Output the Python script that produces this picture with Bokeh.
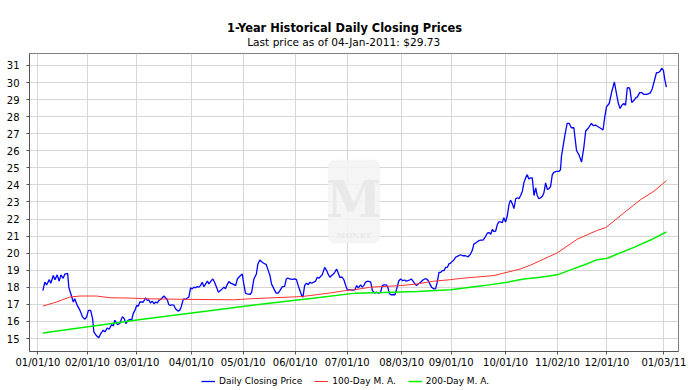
from bokeh.plotting import figure
from bokeh.layouts import column
from bokeh.models import (Range1d, FixedTicker, Label, Legend, LegendItem,
                          BoxAnnotation, Title, ColumnDataSource)
from bokeh.embed import file_html
from bokeh.resources import INLINE

# ---------------- data (trading-day index from 04-Jan-2010) ----------------
close_day = [
    0.0, 0.8, 1.5, 2.6, 3.2, 4.2, 4.9, 5.8, 6.6, 7.3,
    8.2, 8.9, 10.0, 10.5, 11.3, 12.3, 12.9, 13.9, 15.0, 16.0,
    17.0, 17.7, 18.4, 19.3, 20.1, 20.6, 21.7, 22.6, 23.4, 24.4,
    25.1, 26.0, 26.8, 27.8, 28.5, 29.1, 30.1, 31.1, 32.1, 32.9,
    33.5, 34.5, 35.2, 35.9, 36.5, 37.2, 37.9, 38.6, 39.2, 40.6,
    41.5, 42.2, 42.8, 43.5, 44.2, 44.9, 45.6, 46.2, 46.9, 47.9,
    48.9, 49.6, 50.3, 50.9, 51.6, 52.3, 53.0, 53.6, 54.6, 55.3,
    55.9, 56.6, 57.0, 57.7, 58.4, 59.0, 59.7, 60.4, 61.0, 61.7,
    62.4, 63.1, 63.7, 64.4, 65.1, 65.8, 66.5, 67.1, 68.1, 68.7,
    69.4, 70.2, 70.9, 71.8, 72.5, 73.2, 73.8, 74.5, 75.2, 75.9,
    76.6, 77.2, 77.9, 78.6, 79.2, 79.9, 80.6, 81.2, 81.9, 82.6,
    83.7, 84.4, 85.3, 86.3, 86.9, 87.7, 88.7, 89.3, 90.3, 91.1,
    91.8, 92.4, 93.4, 94.3, 95.1, 95.8, 96.8, 97.7, 98.4, 99.0,
    99.7, 100.8, 101.7, 102.5, 103.2, 103.9, 104.6, 105.1, 105.8, 106.5,
    107.3, 107.9, 108.6, 109.5, 110.2, 110.9, 111.6, 112.2, 112.9, 113.9,
    114.7, 115.4, 116.0, 116.7, 117.4, 118.0, 118.7, 119.4, 120.0, 121.0,
    121.7, 122.4, 123.0, 124.1, 125.1, 126.1, 126.8, 127.5, 128.4, 129.1,
    129.7, 130.4, 131.4, 132.5, 133.2, 134.1, 134.8, 135.6, 136.5, 137.2,
    137.8, 138.8, 139.4, 140.1, 140.8, 141.6, 142.3, 143.0, 143.9, 144.6,
    145.5, 146.2, 146.9, 147.5, 148.2, 148.9, 149.6, 150.4, 151.0, 151.7,
    152.7, 153.6, 154.3, 155.1, 155.8, 156.4, 157.1, 158.0, 158.7, 159.4,
    160.1, 160.8, 161.4, 162.1, 162.8, 163.5, 164.1, 164.8, 165.5, 166.1,
    166.8, 167.5, 168.8, 169.7, 170.8, 171.9, 172.8, 173.5, 174.2, 175.2,
    176.0, 176.9, 177.9, 178.7, 179.6, 180.3, 181.0, 181.7, 182.3, 183.0,
    183.7, 184.3, 185.0, 185.7, 186.3, 187.0, 187.7, 188.4, 189.0, 189.7,
    190.4, 191.1, 191.8, 192.4, 193.1, 193.8, 194.4, 195.1, 195.8, 196.4,
    197.1, 197.8, 198.5, 199.2, 199.8, 200.5, 201.2, 201.9, 202.5, 203.2,
    203.9, 204.5, 205.2, 205.9, 206.5, 207.5, 208.6, 209.2, 209.6, 210.3,
    210.9, 211.9, 212.7, 213.6, 214.6, 215.7, 216.7, 217.7, 218.6, 219.4,
    220.4, 221.7, 222.4, 223.3, 224.4, 225.4, 226.4, 227.1, 227.8, 228.9,
    229.9, 231.0, 231.7, 232.6, 233.3, 234.0, 234.8, 235.5, 236.2, 236.9,
    237.3, 238.0, 238.9, 239.6, 240.3, 241.2, 242.0, 242.9, 244.0, 244.9,
    245.6, 246.3, 247.3, 248.0, 248.8, 249.5, 250.1, 250.8, 251.3, 252.0,
]
close_price = [
    17.81, 18.30, 18.14, 18.45, 18.24, 18.69, 18.45, 18.73, 18.36, 18.73,
    18.53, 18.78, 18.82, 18.00, 17.62, 17.14, 17.33, 16.94, 16.65, 16.27,
    16.13, 16.27, 16.65, 16.65, 16.17, 15.39, 15.16, 15.04, 15.29, 15.49,
    15.39, 15.62, 15.54, 15.82, 15.74, 16.07, 15.82, 15.88, 16.27, 16.17,
    15.88, 16.07, 16.13, 16.07, 16.46, 16.65, 16.94, 16.90, 17.14, 17.14,
    17.39, 17.23, 17.27, 17.08, 17.19, 17.04, 17.14, 17.08, 17.23, 17.33,
    17.49, 17.39, 17.27, 16.98, 16.94, 16.98, 16.94, 16.75, 16.61, 16.65,
    16.85, 17.23, 17.33, 17.29, 17.37, 17.43, 17.97, 17.91, 18.01, 17.97,
    18.04, 18.01, 18.10, 18.30, 18.04, 18.20, 18.36, 18.20, 18.39, 18.49,
    18.30, 18.01, 17.72, 17.81, 17.91, 18.01, 17.91, 18.16, 18.34, 18.24,
    18.20, 18.16, 18.10, 18.49, 18.59, 18.69, 18.78, 18.20, 17.66, 17.62,
    17.58, 17.72, 18.49, 18.78, 19.37, 19.60, 19.46, 19.41, 19.33, 18.98,
    18.69, 18.20, 17.91, 17.66, 17.66, 17.81, 18.04, 18.06, 18.49, 18.55,
    18.49, 18.47, 18.49, 18.45, 18.10, 17.81, 17.52, 17.43, 18.10, 18.24,
    18.16, 18.30, 18.24, 18.30, 18.36, 18.59, 18.53, 18.63, 18.73, 19.17,
    18.98, 18.74, 18.59, 18.69, 18.78, 18.88, 19.07, 18.82, 18.59, 18.59,
    18.43, 18.10, 17.87, 17.85, 17.83, 17.85, 18.10, 17.97, 18.14, 18.01,
    18.10, 18.30, 18.36, 18.30, 17.81, 17.66, 17.72, 17.66, 17.72, 18.10,
    18.14, 18.14, 18.01, 17.62, 17.56, 17.58, 17.56, 17.91, 18.39, 18.49,
    18.39, 18.43, 18.36, 18.39, 18.43, 18.49, 18.36, 18.20, 18.10, 18.20,
    18.30, 18.43, 18.49, 18.49, 18.39, 18.20, 18.01, 17.91, 17.91, 18.30,
    18.88, 18.88, 18.98, 18.98, 19.17, 19.17, 19.37, 19.42, 19.52, 19.60,
    19.76, 19.81, 19.91, 19.85, 19.85, 19.79, 19.95, 20.14, 20.53, 20.63,
    20.72, 20.76, 20.76, 20.92, 21.17, 21.21, 21.11, 21.40, 21.27, 21.30,
    21.69, 21.83, 21.83, 21.79, 22.08, 21.83, 22.18, 22.86, 23.11, 22.91,
    22.61, 23.19, 23.25, 23.19, 23.38, 23.63, 24.12, 24.41, 24.60, 24.35,
    24.41, 24.41, 23.38, 23.83, 23.38, 23.19, 23.25, 23.34, 23.54, 24.12,
    23.73, 23.77, 23.92, 24.60, 24.74, 24.79, 24.79, 24.89, 25.67, 26.30,
    26.85, 27.61, 27.61, 27.35, 27.35, 26.00, 25.76, 25.34, 26.15, 27.16,
    27.32, 27.61, 27.47, 27.51, 27.41, 27.32, 27.22, 27.99, 28.57, 28.77,
    29.45, 30.03, 29.45, 28.77, 28.48, 28.67, 28.77, 28.67, 29.68, 29.70,
    29.60, 28.83, 28.96, 29.10, 29.16, 29.41, 29.41, 29.30, 29.30, 29.35,
    29.41, 29.64, 30.19, 30.58, 30.58, 30.67, 30.84, 30.71, 30.23, 29.73,
]

ma100_day = [0, 5.5, 10.9, 15.0, 21.7, 27.1, 35.2, 41.9, 55.7, 77.1, 83.9,
             104.8, 115.6, 122.4, 126.4, 132.5, 144.6, 151.3, 158.0, 164.8,
             168.8, 182.3, 193.1, 197.1, 207.9, 216.0, 224.1, 227.5, 234.9,
             241.7, 247.0, 252.0]
ma100 = [16.90, 17.14, 17.43, 17.49, 17.49, 17.39, 17.37, 17.33, 17.30, 17.27,
         17.33, 17.46, 17.66, 17.81, 17.87, 18.01, 18.10, 18.20, 18.36, 18.45,
         18.52, 18.69, 19.08, 19.30, 20.02, 20.82, 21.34, 21.50, 22.37, 23.15,
         23.63, 24.25]

ma200_day = [0, 10.9, 22.0, 39.5, 66.5, 83.9, 110.0, 126.4, 137.8, 151.3,
             164.8, 178.3, 187.7, 194.4, 201.2, 207.9, 213.3, 218.7, 224.1,
             228.2, 232.2, 238.9, 246.3, 252.0]
ma200 = [15.33, 15.55, 15.77, 16.11, 16.61, 16.94, 17.37, 17.66, 17.70, 17.76,
         17.86, 18.10, 18.30, 18.49, 18.59, 18.73, 19.02, 19.31, 19.62, 19.70,
         19.95, 20.34, 20.82, 21.24]

tick_days = [-2, 18, 38, 60, 81, 102, 123, 145, 165, 187, 208, 228, 251]
tick_labels = ["01/01/10", "02/01/10", "03/01/10", "04/01/10", "05/01/10",
               "06/01/10", "07/01/10", "08/03/10", "09/01/10", "10/01/10",
               "11/02/10", "12/01/10", "01/03/11"]
y_ticks = list(range(15, 32))

title_text = "1-Year Historical Daily Closing Prices"
subtitle_text = "Last price as of 04-Jan-2011: $29.73"
series_names = ["Daily Closing Price", "100-Day M. A.", "200-Day M. A."]
series_colors = ["#0000ff", "#ff3030", "#00f000"]
series_widths = [1.3, 1.0, 1.5]

# ---------------- main figure ----------------
FONT = "DejaVu Sans"

p = figure(width=700, height=370, output_backend="svg", toolbar_location=None,
           x_range=Range1d(-5.4, 256.9), y_range=Range1d(14.24, 31.70),
           min_border_left=29, min_border_right=22,
           min_border_top=53, min_border_bottom=17)
p.background_fill_color = "white"
p.border_fill_color = "white"
p.outline_line_color = "#808080"
p.outline_line_width = 1

# titles (main title outermost, subtitle next to the frame)
p.title.text = title_text
p.title.align = "left"
p.title.offset = 197.5
p.title.standoff = -12
p.title.vertical_align = "bottom"
p.title.text_font = FONT
p.title.text_font_size = "11.4px"
p.title.text_font_style = "bold"
p.title.text_color = "#000000"
p.add_layout(Title(text=subtitle_text, align="left", offset=217.7, standoff=11,
                   vertical_align="bottom", text_font=FONT, text_font_size="10.6px",
                   text_font_style="normal", text_color="#000000"), "above")

# watermark
p.add_layout(BoxAnnotation(left=299, right=350, bottom=109, top=191,
                           left_units="screen", right_units="screen",
                           top_units="screen", bottom_units="screen",
                           fill_color="#f4f4f4", fill_alpha=0.9,
                           line_color="#efefef", line_width=2,
                           border_radius=6, level="underlay"))
p.add_layout(Label(x=324.5, y=152, x_units="screen", y_units="screen",
                   text="M", text_align="center", text_baseline="middle",
                   text_font="DejaVu Serif", text_font_size="50px",
                   text_font_style="bold", text_color="#e9e9e9", level="underlay"))
p.add_layout(Label(x=324.5, y=117, x_units="screen", y_units="screen",
                   text="MONEY", text_align="center", text_baseline="middle",
                   text_font="DejaVu Serif", text_font_size="8px",
                   text_font_style="bold", text_color="#e9e9e9", level="underlay"))

# axes
for ax in (p.xaxis[0], p.yaxis[0]):
    ax.axis_line_color = "#555555"
    ax.major_tick_line_color = "#555555"
    ax.major_tick_in = 0
    ax.major_tick_out = 3
    ax.minor_tick_line_color = None
    ax.major_label_text_font = FONT
    ax.major_label_text_font_size = "10px"
    ax.major_label_text_color = "#000000"

p.xaxis.ticker = FixedTicker(ticks=tick_days)
p.xaxis.major_label_overrides = {d: lab for d, lab in zip(tick_days, tick_labels)}
p.xaxis.major_label_standoff = 2
p.yaxis.ticker = FixedTicker(ticks=y_ticks)
p.yaxis.major_label_standoff = 7

p.xgrid.grid_line_color = "#d6d6d6"
p.ygrid.grid_line_color = "#d6d6d6"

# series
p.line(close_day, close_price, line_color=series_colors[0], line_width=series_widths[0])
p.line(ma100_day, ma100, line_color=series_colors[1], line_width=series_widths[1])
p.line(ma200_day, ma200, line_color=series_colors[2], line_width=series_widths[2])

# ---------------- legend strip ----------------
lg = figure(width=700, height=20, output_backend="svg", toolbar_location=None,
            x_range=Range1d(0, 1), y_range=Range1d(0, 1),
            x_axis_location=None, y_axis_location=None,
            min_border_left=0, min_border_right=0, min_border_top=0, min_border_bottom=0)
lg.outline_line_color = None
lg.xgrid.visible = False
lg.ygrid.visible = False
lg.background_fill_color = "white"
lg.border_fill_color = "white"

items = []
for name, col, w in zip(series_names, series_colors, series_widths):
    # single-point proxy renderer: draws nothing itself, only feeds the legend swatch
    r = lg.line("x", "y", source=ColumnDataSource(data=dict(x=[5], y=[5])),
                line_color=col, line_width=w)
    items.append(LegendItem(label=name, renderers=[r]))

legend = Legend(items=items, orientation="horizontal", location=(172, 4),
                padding=0, margin=0, spacing=12, glyph_width=14, glyph_height=10,
                label_height=10, label_standoff=4,
                label_text_font=FONT, label_text_font_size="9px",
                label_text_color="#000000",
                border_line_color=None, background_fill_alpha=0)
lg.add_layout(legend)

open("out.html", "w").write(file_html(column(p, lg, spacing=0), INLINE))
